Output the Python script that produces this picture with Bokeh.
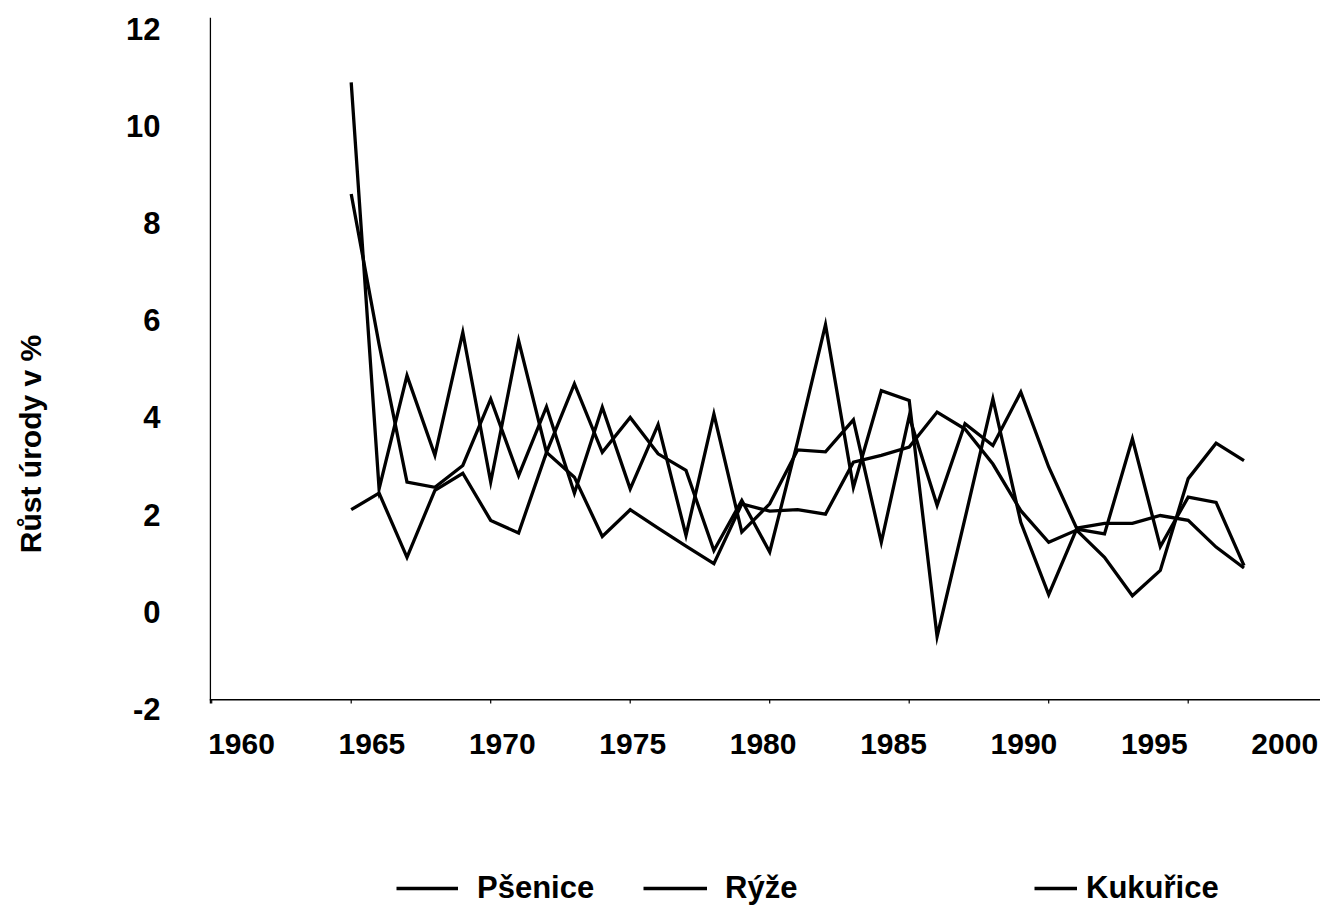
from bokeh.plotting import figure
from bokeh.layouts import column
from bokeh.models import Range1d, FixedTicker, Legend, LegendItem
from bokeh.core.properties import value
from bokeh.embed import file_html
from bokeh.resources import INLINE

# ---------------- data ----------------
years = list(range(1964, 1997))
psenice = [8.60, 5.50, 2.67, 2.56, 3.01, 4.38, 2.80, 4.22, 2.44, 4.21,
           2.53, 3.85, 1.57, 4.07, 1.64, 2.22, 3.33, 3.29, 3.95, 1.43,
           4.02, 2.19, 3.87, 3.42, 4.52, 2.98, 1.72, 1.82, 1.82, 1.98,
           1.88, 1.33, 0.90]
ryze = [2.10, 2.44, 1.12, 2.50, 2.85, 1.88, 1.62, 3.28, 2.77, 1.55,
        2.10, 1.72, 1.35, 0.99, 2.22, 2.07, 2.10, 2.01, 3.08, 3.22,
        3.39, 4.11, 3.76, 3.04, 2.08, 1.43, 1.68, 1.12, 0.33, 0.85,
        2.74, 3.47, 3.11]
kukurice = [10.90, 2.53, 4.86, 3.22, 5.75, 2.67, 5.58, 3.28, 4.69, 3.28,
            4.00, 3.25, 2.91, 1.26, 2.29, 1.23, 3.50, 5.91, 2.56, 4.55,
            4.35, -0.51, 1.92, 4.38, 1.84, 0.35, 1.70, 1.60, 3.56, 1.34,
            2.36, 2.25, 0.95]
series_names = ["Pšenice", "Rýže", "Kukuřice"]
x_tick_labels = ["1960", "1965", "1970", "1975", "1980", "1985", "1990", "1995", "2000"]
y_ticks = [-2, 0, 2, 4, 6, 8, 10, 12]
y_title = "Růst úrody v %"

# ---------------- layout (pixel geometry of the original) ----------------
FONT = "Liberation Sans"
W, H, H_LEG = 1320, 870, 36
FRAME_L, FRAME_T = 209, 17
PX_FIRST, PX_STEP = 350.7, 27.9      # first point / spacing between points
PY_ZERO, PY_UNIT = 611.2, 48.57      # value 0 / px per unit
LABEL0_PX, LABEL_STEP = 241.0, 130.4  # x label centres

def xd(px):
    return years[0] + (px - PX_FIRST) / PX_STEP

def yd(py):
    return (PY_ZERO - py) / PY_UNIT

p = figure(width=W, height=H, output_backend="svg", toolbar_location=None,
           x_range=Range1d(xd(FRAME_L), xd(W)), y_range=Range1d(yd(H), yd(FRAME_T)),
           min_border_left=FRAME_L, min_border_right=0,
           min_border_top=FRAME_T, min_border_bottom=0)
p.outline_line_color = None
p.xgrid.visible = False
p.ygrid.visible = False
p.xaxis.visible = False
p.background_fill_color = "white"
p.border_fill_color = "white"

# y axis: tick labels + title (its line is drawn below)
yax = p.yaxis[0]
yax.ticker = FixedTicker(ticks=y_ticks)
yax.major_label_overrides = {t: str(t) for t in y_ticks}
yax.axis_line_color = None
yax.major_tick_out = 0
yax.major_tick_in = 0
yax.minor_tick_out = 0
yax.minor_tick_in = 0
yax.major_label_standoff = 49
yax.major_label_text_font = FONT
yax.major_label_text_font_style = "bold"
yax.major_label_text_font_size = "31px"
yax.major_label_text_color = "black"
yax.axis_label = y_title
yax.axis_label_standoff = 76
yax.axis_label_text_font = FONT
yax.axis_label_text_font_style = "bold"
yax.axis_label_text_font_size = "30px"
yax.axis_label_text_color = "black"

# axis lines and small tick marks (every 5 points)
axis_y = yd(699.3)
p.segment(x0=[xd(FRAME_L), xd(209.8)], y0=[axis_y, yd(703)],
          x1=[xd(W), xd(209.8)], y1=[axis_y, yd(FRAME_T)],
          line_color="black", line_width=1.5)
tick_x = [years[0] + k for k in range(-5, 35, 5)]
p.segment(x0=tick_x, y0=[axis_y] * len(tick_x), x1=tick_x,
          y1=[yd(703)] * len(tick_x), line_color="black", line_width=1.2)

# x tick labels
label_x = [xd(LABEL0_PX + LABEL_STEP * i) for i in range(len(x_tick_labels))]
p.text(x=label_x, y=[yd(743.3)] * len(label_x), text=x_tick_labels,
       text_font=value(FONT), text_font_style=value("bold"), text_font_size=value("30px"),
       text_color="black", text_align="center", text_baseline="middle")

# lines
line_style = dict(line_color="black", line_width=3.3, line_join="miter")
series = (psenice, ryze, kukurice)
for vals in series:
    p.line(years, vals, **line_style)

# legend strip below the chart (its own frame lies below the data, so only the keys show)
pl = figure(width=W, height=H_LEG, output_backend="svg", toolbar_location=None,
            x_range=Range1d(xd(FRAME_L), xd(W)), y_range=Range1d(-40, -39),
            min_border_left=FRAME_L, min_border_right=0, min_border_top=0, min_border_bottom=0)
pl.outline_line_color = None
pl.xgrid.visible = False
pl.ygrid.visible = False
pl.xaxis.visible = False
pl.yaxis.visible = False
pl.background_fill_color = "white"
pl.border_fill_color = "white"
for vals, name, x, gw, so in zip(series, series_names,
                                 (187, 434, 825), (62, 64, 43), (19, 18, 9)):
    key = pl.line(years, vals, **line_style)
    leg = Legend(items=[LegendItem(label=name, renderers=[key])],
                 location=(x, 0), orientation="horizontal",
                 glyph_width=gw, glyph_height=H_LEG, label_standoff=so,
                 padding=0, margin=0, spacing=0, label_height=H_LEG,
                 border_line_color=None, background_fill_alpha=0,
                 label_text_font=FONT, label_text_font_style="bold",
                 label_text_font_size="31px", label_text_color="black")
    pl.add_layout(leg)

layout = column(p, pl, spacing=0)
open("out.html", "w").write(file_html(layout, INLINE))
